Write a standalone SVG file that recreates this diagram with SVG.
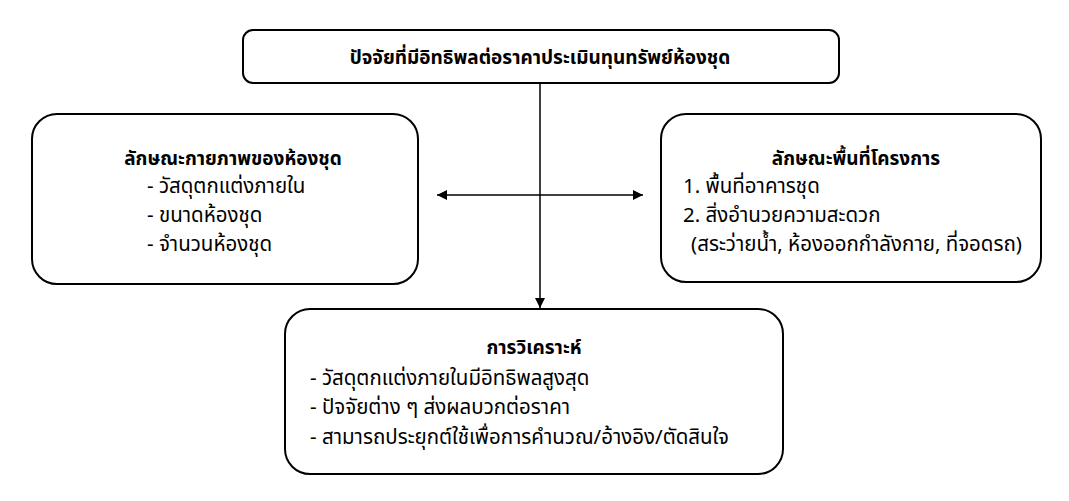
<svg xmlns="http://www.w3.org/2000/svg" width="1069" height="501" viewBox="0 0 1069 501">
<defs>
<style>
.box{fill:#fff;stroke:#000;stroke-width:2}
.t{font-family:"Noto Sans Thai","Noto Sans","DejaVu Sans",sans-serif;font-size:20.5px;fill:#000}
.b{font-weight:bold;font-size:19px}
.c{text-anchor:middle}
.ln{stroke:#000;stroke-width:1.5;fill:none}
</style>
<marker id="ah" viewBox="0 0 10 10" refX="10" refY="5" markerWidth="10" markerHeight="10" markerUnits="userSpaceOnUse" orient="auto-start-reverse">
<path d="M0,0 L10,5 L0,10 z" fill="#000"/>
</marker>
</defs>
<rect width="1069" height="501" fill="#fff"/>
<g id="connectors">
<line class="ln" x1="540" y1="83" x2="540" y2="308" marker-end="url(#ah)"/>
<line class="ln" x1="437" y1="195" x2="643" y2="195" marker-start="url(#ah)" marker-end="url(#ah)"/>
</g>
<g id="top">
<rect class="box" x="243" y="30" width="596" height="53" rx="10"/>
<text class="t b c" x="540" y="64">ปัจจัยที่มีอิทธิพลต่อราคาประเมินทุนทรัพย์ห้องชุด</text>
</g>
<g id="physical">
<rect class="box" x="32" y="114" width="386" height="170" rx="25"/>
<text class="t b c" x="233" y="165">ลักษณะกายภาพของห้องชุด</text>
<text class="t" x="147" y="193">- วัสดุตกแต่งภายใน</text>
<text class="t" x="147" y="222">- ขนาดห้องชุด</text>
<text class="t" x="147" y="251">- จำนวนห้องชุด</text>
</g>
<g id="area">
<rect class="box" x="661" y="114" width="380" height="168" rx="25"/>
<text class="t b c" x="856" y="165">ลักษณะพื้นที่โครงการ</text>
<text class="t" x="683" y="193">1. พื้นที่อาคารชุด</text>
<text class="t" x="683" y="222">2. สิ่งอำนวยความสะดวก</text>
<text class="t" x="691" y="251">(สระว่ายน้ำ, ห้องออกกำลังกาย, ที่จอดรถ)</text>
</g>
<g id="analysis">
<rect class="box" x="285" y="309" width="498" height="165" rx="25"/>
<text class="t b c" x="534" y="354">การวิเคราะห์</text>
<text class="t" x="310" y="385">- วัสดุตกแต่งภายในมีอิทธิพลสูงสุด</text>
<text class="t" x="310" y="414">- ปัจจัยต่าง ๆ ส่งผลบวกต่อราคา</text>
<text class="t" x="310" y="444">- สามารถประยุกต์ใช้เพื่อการคำนวณ/อ้างอิง/ตัดสินใจ</text>
</g>
</svg>
